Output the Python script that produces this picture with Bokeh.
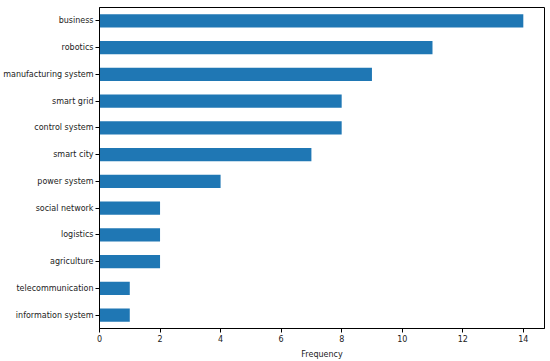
from bokeh.plotting import figure
from bokeh.models import Range1d, FixedTicker
from bokeh.embed import file_html
from bokeh.resources import INLINE

categories = ["business", "robotics", "manufacturing system", "smart grid", "control system",
              "smart city", "power system", "social network", "logistics", "agriculture",
              "telecommunication", "information system"]
frequency = [14, 11, 9, 8, 8, 7, 4, 2, 2, 2, 1, 1]
x_ticks = [0, 2, 4, 6, 8, 10, 12, 14]

factors = list(reversed(categories))

p = figure(width=550, height=361, y_range=factors, x_range=Range1d(0, 14.7),
           output_backend="svg", toolbar_location=None,
           min_border_left=99, min_border_top=7, min_border_right=6, min_border_bottom=30)

p.hbar(y=categories, right=frequency, left=0, height=0.5, color="#1f77b4", line_color=None)

p.xgrid.visible = False
p.ygrid.visible = False
p.outline_line_color = "black"
p.outline_line_width = 1
p.y_range.range_padding = 0

for ax in (p.xaxis, p.yaxis):
    ax.axis_line_color = "black"
    ax.major_tick_line_color = "black"
    ax.major_tick_out = 4
    ax.major_tick_in = 0
    ax.minor_tick_line_color = None
    ax.major_label_text_font = "DejaVu Sans"
    ax.major_label_text_font_size = "8px"
    ax.major_label_text_color = "#222222"
    ax.major_label_standoff = 2

p.xaxis.ticker = FixedTicker(ticks=x_ticks)
p.xaxis.axis_label = "Frequency"
p.xaxis.axis_label_text_font = "DejaVu Sans"
p.xaxis.axis_label_text_font_size = "8px"
p.xaxis.axis_label_text_font_style = "normal"
p.xaxis.axis_label_text_color = "#222222"
p.xaxis.axis_label_standoff = 5

open("out.html", "w").write(file_html(p, INLINE))
